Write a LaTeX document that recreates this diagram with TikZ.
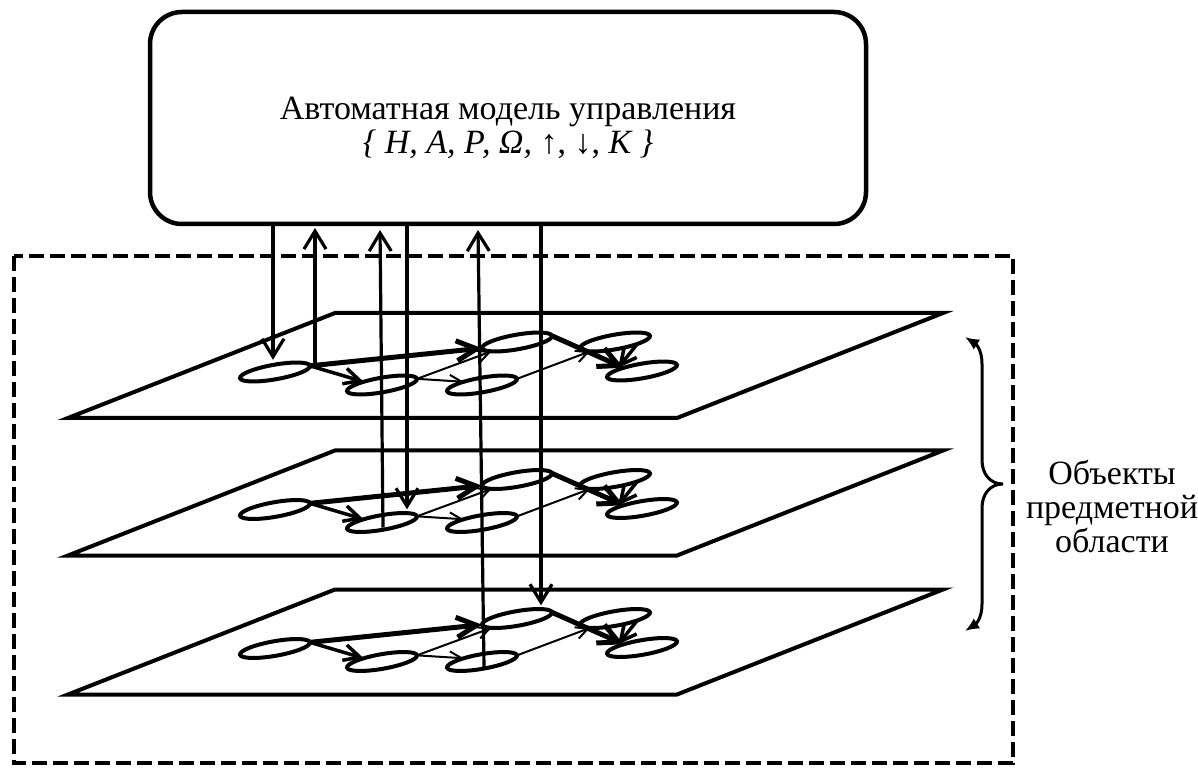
\documentclass[tikz,border=0pt]{standalone}
\usepackage{fontspec}
\setmainfont{Liberation Serif}
\usetikzlibrary{arrows.meta,shapes.geometric,calc}
\begin{document}
\begin{tikzpicture}[x=0.5pt,y=-0.5pt,
  ell/.style={draw,ellipse,line width=2pt,minimum width=35.5pt,minimum height=7.3pt,inner sep=0pt,outer sep=0pt,rotate=10},
  plane/.style={draw,line width=2pt,line join=miter},
  thickarr/.style={line width=2.5pt,-{Straight Barb[length=10pt,width=10pt]}},
  medarr/.style={line width=1.75pt,-{Straight Barb[length=8pt,width=8pt]}},
  thinarr/.style={line width=1pt,-{Straight Barb[length=6pt,width=6pt]}},
  vdown/.style={line width=1.6pt,-{Straight Barb[length=9pt,width=11pt]}},
  vup/.style={line width=1.6pt,{Straight Barb[length=9pt,width=11pt]}-},
  brace/.style={line width=1.5pt,{Latex[length=7pt,width=6pt]}-{Latex[length=7pt,width=6pt]}},
  dashbox/.style={draw,line width=2pt,dash pattern=on 7.5pt off 3pt},
  bigbox/.style={draw,line width=2.25pt,rounded corners=16pt,minimum width=358pt,minimum height=106pt,inner sep=0pt},
  txt/.style={font=\fontsize{17}{17}\selectfont,align=center,inner sep=0pt}
]
\useasboundingbox (0,0) rectangle (1198,769);

% control model box
\node[bigbox] (box) at (508,118) {};
\node[txt] (boxtext) at (508,128) {Автоматная модель управления\\[0pt]\textit{\{ Н, А, Р, Ω,} ↑, ↓, \textit{К \}}};

% dashed frame
\draw[dashbox] (14,256) rectangle (1013,763);

% planes with ellipses
\foreach \p/\dy in {1/0,2/137.5,3/276.5}{
  \draw[plane] (68,418+\dy) -- (677,418+\dy) -- (943,313+\dy) -- (335,313+\dy) -- cycle;
  \node[ell] (A\p) at (275,372+\dy) {};
  \node[ell] (B\p) at (382,385+\dy) {};
  \node[ell] (C\p) at (482,385+\dy) {};
  \node[ell] (D\p) at (517,342+\dy) {};
  \node[ell] (E\p) at (615,342+\dy) {};
  \node[ell] (F\p) at (642,371+\dy) {};
  \draw[thickarr] (A\p.east) -- (D\p.west);
  \draw[medarr] (A\p.east) -- (B\p.160);
  \draw[thinarr] (B\p.east) -- (C\p.160);
  \draw[thinarr] (B\p.east) -- (D\p);
  \draw[thinarr] (C\p.east) -- (E\p);
  \draw[thickarr] (D\p.east) -- (F\p.160);
  \draw[medarr] (E\p.-15) -- ($(F\p)+(-24,-3)$);
}

% vertical connectors
\coordinate (b1) at (273,226);
\coordinate (b2) at (315,228);
\coordinate (b3) at (380,230);
\coordinate (b4) at (407,226);
\coordinate (b5) at (478,230);
\coordinate (b6) at (541,226);
\draw[vdown] (b1) -- ($(b1 |- A1.north)+(0,-5)$);
\draw[vup] (b2) -- (b2 |- A1.east);
\draw[vup] (b3) -- ($(B2)+(1,5)$);
\draw[vdown] (b4) -- ($(b4 |- B2.north)+(0,-6)$);
\draw[vup] (b5) -- ($(C3)+(2,6)$);
\draw[vdown] (b6) -- ($(b6 |- D3.north)+(0,-6)$);

% brace
\coordinate (brtop) at (965,337);
\coordinate (brmid) at (1003,484);
\coordinate (brbot) at (965,631);
\draw[brace] (brtop) .. controls (976,344) and (982,350) .. (982,364) -- (982,460)
  .. controls (982,474) and (990,484) .. (brmid)
  .. controls (990,484) and (982,494) .. (982,508) -- (982,604)
  .. controls (982,618) and (976,624) .. (brbot);

\node[txt] (objtext) at (1112,506) {Объекты\\предметной\\области};
\end{tikzpicture}
\end{document}
